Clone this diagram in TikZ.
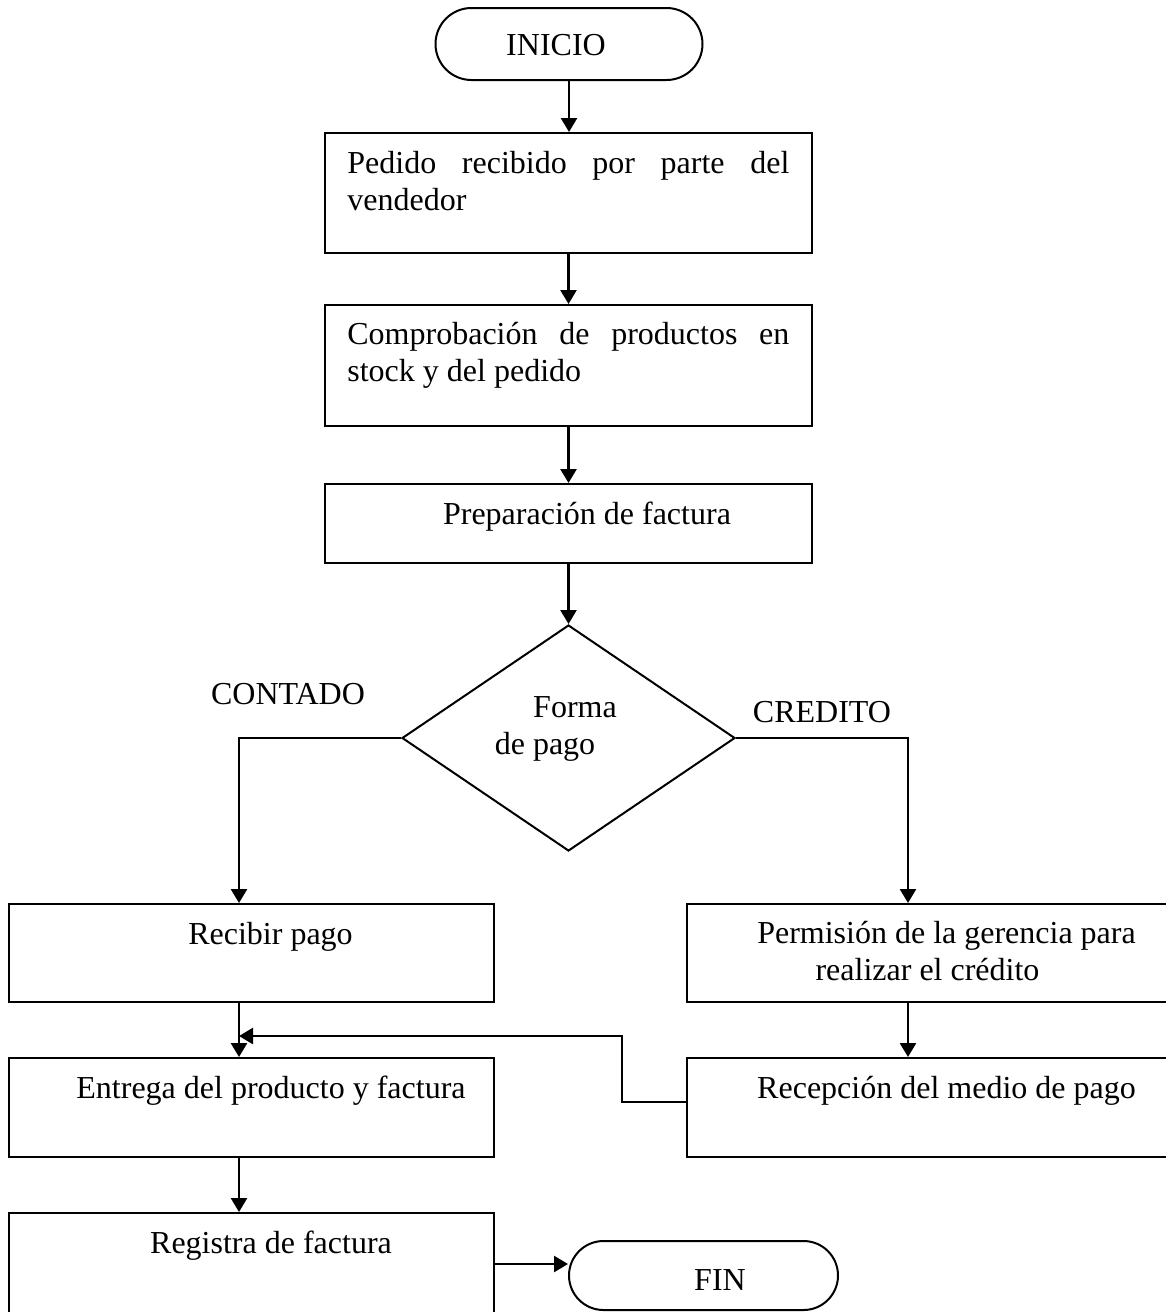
\documentclass[tikz,border=0pt]{standalone}
\usepackage{fontspec}
\setmainfont{Liberation Serif}
\usetikzlibrary{arrows.meta,shapes.geometric,shapes.misc}
\begin{document}
\begin{tikzpicture}[x=0.5pt,y=-0.5pt,
  box/.style={draw,line width=1pt,rectangle,inner sep=0pt},
  term/.style={draw,line width=1pt,rounded rectangle,inner sep=0pt},
  dec/.style={draw,line width=1pt,diamond,inner sep=0pt},
  txt/.style={inner sep=0pt,font=\fontsize{16}{18.5}\selectfont},
  arr/.style={line width=1.3pt,-{Triangle[length=7pt,width=8pt]}},
  ln/.style={line width=1.3pt}]
\useasboundingbox (0,0) rectangle (1166,1312);
% shapes
\node[term,minimum width=133.5pt,minimum height=36pt] (ini) at (569,44) {};
\node[box,minimum width=243.5pt,minimum height=60pt] (b1) at (568.5,193) {};
\node[box,minimum width=243.5pt,minimum height=60.5pt] (b2) at (568.5,365.5) {};
\node[box,minimum width=243.5pt,minimum height=39.5pt] (b3) at (568.5,523.5) {};
\node[dec,minimum width=166.5pt,minimum height=113pt] (dia) at (568.5,738) {};
\node[box,minimum width=242.5pt,minimum height=49pt] (rec) at (251.5,953) {};
\node[box,minimum width=240pt,minimum height=49pt] (perm) at (927,953) {};
\node[box,minimum width=242.5pt,minimum height=49.5pt] (ent) at (251.5,1107.5) {};
\node[box,minimum width=240pt,minimum height=49.5pt] (recep) at (927,1107.5) {};
\node[box,minimum width=242.5pt,minimum height=58.5pt] (reg) at (251.5,1271.5) {};
\node[term,minimum width=134.5pt,minimum height=34.5pt] (fin) at (703.5,1275.5) {};
% texts
\node[txt,anchor=base] (tini) at (556,55) {INICIO};
\node[txt,anchor=base west] (tb1) at (347,173) {\parbox[t]{221pt}{\makebox[221pt][s]{Pedido recibido por parte del}\\vendedor}};
\node[txt,anchor=base west] (tb2) at (347,344) {\parbox[t]{221pt}{\makebox[221pt][s]{Comprobación de productos en}\\stock y del pedido}};
\node[txt,anchor=base] (tb3) at (587,524) {Preparación de factura};
\node[txt,anchor=base] (tdia1) at (575,717) {Forma};
\node[txt,anchor=base] (tdia2) at (545,754) {de pago};
\node[txt,anchor=base] (tcont) at (288,704) {CONTADO};
\node[txt,anchor=base] (tcred) at (822,722) {CREDITO};
\node[txt,anchor=base] (trec) at (270.5,944) {Recibir pago};
\node[txt,anchor=base] (tperm1) at (946.5,943) {Permisión de la gerencia para};
\node[txt,anchor=base] (tperm2) at (927.5,980) {realizar el crédito};
\node[txt,anchor=base] (tent) at (271,1098) {Entrega del producto y factura};
\node[txt,anchor=base] (trecep) at (946.5,1098) {Recepción del medio de pago};
\node[txt,anchor=base] (treg) at (271,1253) {Registra de factura};
\node[txt,anchor=base] (tfin) at (720,1290) {FIN};
% helper coordinates
\coordinate (lcol) at (239,0);
\coordinate (rcol) at (908,0);
\coordinate (fb) at (0,1102);
\coordinate (bend) at (622,1036);
\coordinate (join) at (239,1036);
\coordinate (ay) at (0,1264);
% connectors
\draw[arr] (ini.south) -- (b1.north -| ini.south);
\draw[arr] (b1.south) -- (b2.north);
\draw[arr] (b2.south) -- (b3.north);
\draw[arr] (b3.south) -- (dia.north);
\draw[arr] (dia.west) -| (rec.north -| lcol);
\draw[arr] (dia.east) -| (perm.north -| rcol);
\draw[arr] (rec.south -| lcol) -- (ent.north -| lcol);
\draw[arr] (perm.south -| rcol) -- (recep.north -| rcol);
\draw[arr] (recep.west |- fb) -| (bend) -- (join);
\draw[arr] (ent.south -| lcol) -- (reg.north -| lcol);
\draw[arr] (reg.east |- ay) -- (fin.west |- ay);
\end{tikzpicture}
\end{document}
